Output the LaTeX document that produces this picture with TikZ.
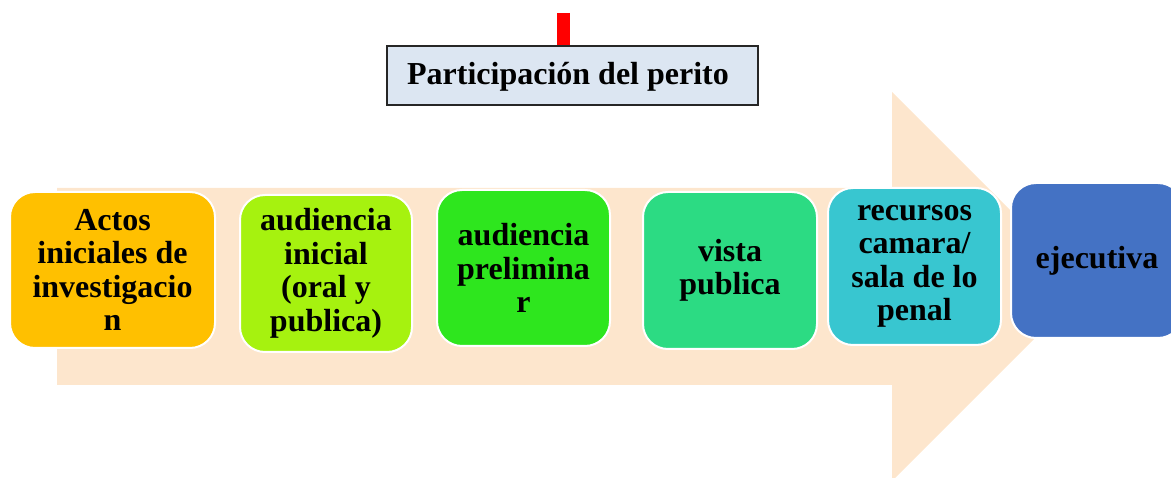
\documentclass[tikz,border=0pt]{standalone}
\usepackage{fontspec}
\setmainfont{Liberation Serif}
\definecolor{peach}{HTML}{FDE6CD}
\definecolor{titlefill}{HTML}{DCE6F2}
\definecolor{titleline}{HTML}{262626}
\definecolor{cA}{HTML}{FFC000}
\definecolor{cB}{HTML}{A6F20F}
\definecolor{cC}{HTML}{2EE61E}
\definecolor{cD}{HTML}{2CDB83}
\definecolor{cE}{HTML}{38C6D0}
\definecolor{cF}{HTML}{4472C4}
\tikzset{
  stagebox/.style={draw=white, line width=2pt, rounded corners=25pt, inner sep=0pt, align=center,
    font=\bfseries\fontsize{32}{33.5}\selectfont, text=black},
  titlebox/.style={draw=titleline, line width=1.5pt, fill=titlefill, inner sep=0pt,
    minimum width=371pt, minimum height=59pt},
  redlink/.style={draw=red, line width=13pt}
}
\begin{document}
\begin{tikzpicture}[x=1pt, y=-1pt]
\useasboundingbox (0,0) rectangle (1171,478);
\clip (0,0) rectangle (1171,478);
% big arrow
\fill[peach] (57,188) -- (892,188) -- (892,92) -- (1086.5,286.5) -- (892,481) -- (892,385) -- (57,385) -- cycle;
% title
\node[titlebox] (title) at (572.5,75.5) {};
\node[font=\bfseries\fontsize{32}{33.5}\selectfont] (titletext) at (568,77) {Participación del perito};
\coordinate (redtop) at (563,13);
\draw[redlink] (redtop) -- (redtop |- title.north);
% stages
\node[stagebox, fill=cA, minimum width=205pt, minimum height=156pt] (s1) at (112.5,270) {Actos\\iniciales de\\investigacio\\n};
\node[stagebox, fill=cB, minimum width=172pt, minimum height=157pt] (s2) at (326,273.5) {audiencia\\inicial\\(oral y\\publica)};
\node[stagebox, fill=cC, minimum width=173pt, minimum height=156pt] (s3) at (523.5,268) {audiencia\\prelimina\\r};
\node[stagebox, fill=cD, minimum width=174pt, minimum height=157pt] (s4) at (730,270.5) {vista\\publica};
\node[stagebox, fill=cE, minimum width=173pt, minimum height=157pt] (s5) at (914.5,266.5) {recursos\\camara/\\sala de lo\\penal};
\node[stagebox, fill=cF, minimum width=172pt, minimum height=155pt] (s6) at (1097,260.5) {ejecutiva};
\end{tikzpicture}
\end{document}
